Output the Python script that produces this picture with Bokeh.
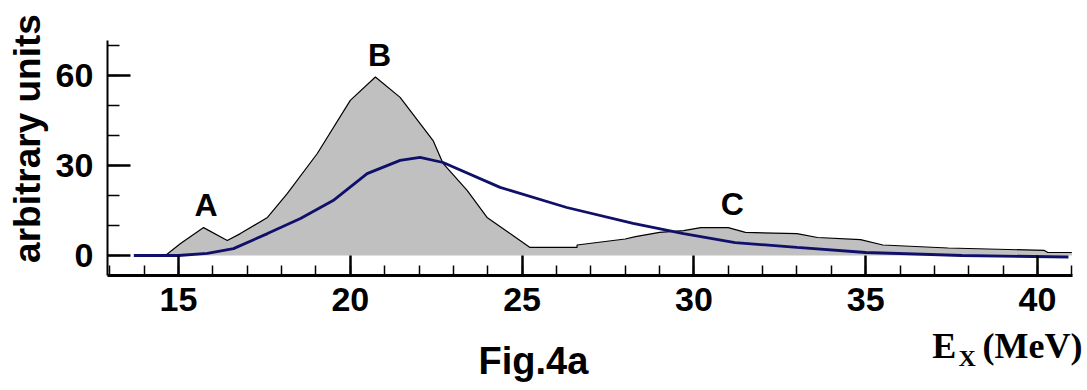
from bokeh.plotting import figure
from bokeh.models import Range1d, SingleIntervalTicker, Label
from bokeh.embed import file_html
from bokeh.resources import INLINE

# gray (measured) spectrum
gray_x = [14.62, 15.06, 15.73, 16.42, 16.8, 17.59, 18.17, 19.04, 20.0, 20.73, 21.45,
          22.41, 22.70, 23.40, 23.98, 24.65, 25.23, 25.6, 26.6, 26.6, 28.0, 28.3, 29.0,
          29.7, 30.2, 31.0, 31.5, 33.0, 33.6, 34.85, 35.5, 37.4, 40.2, 40.3, 41.0]
gray_y = [0, 4, 9.3, 5, 7.3, 12.7, 20.7, 34, 51.7, 59.5, 52.7,
          38.3, 30.7, 21.7, 12.7, 7.3, 2.7, 2.7, 2.7, 3.5, 5.5, 6.3, 7.7,
          8.3, 9.3, 9.3, 7.7, 7.3, 6.0, 5.3, 3.5, 2.5, 1.7, 1.0, 1.0]

# blue (calculated) curve
blue_x = [13.7, 15.0, 15.84, 16.6, 17.59, 18.55, 19.5, 20.49, 21.45, 22.03, 22.70,
          24.36, 26.3, 28.23, 29.7, 31.2, 33.0, 35.0, 37.8, 40.9]
blue_y = [0, 0, 0.7, 2.3, 7.3, 12.3, 18.3, 27.3, 31.7, 32.7, 31,
          22.7, 16, 10.7, 7.3, 4.3, 2.7, 1.0, 0, -0.5]

peak_labels = ["A", "B", "C"]
peak_x = [15.8, 20.85, 31.12]
peak_y = [16.7, 67.0, 17.3]

# axis extents (data units)
X_MIN, X_MAX = 12.93, 41.02
Y_MIN, Y_MAX = -6.67, 71.67

SANS = "Liberation Sans"
SERIF = "Liberation Serif"

p = figure(width=1087, height=390, output_backend="svg", toolbar_location=None,
           x_range=Range1d(9.82, 41.455), y_range=Range1d(-45.0, 85.0),
           min_border=0, min_border_left=0, min_border_right=0,
           min_border_top=0, min_border_bottom=0, title=None)
p.outline_line_color = None
p.grid.visible = False
p.background_fill_color = "white"
p.border_fill_color = "white"

p.varea(x=gray_x, y1=0, y2=gray_y, fill_color="#c0c0c0")
p.line(gray_x, gray_y, line_color="black", line_width=1.2)
p.line(blue_x, blue_y, line_color="#10106a", line_width=2.8)

xa = p.xaxis[0]
xa.ticker = SingleIntervalTicker(interval=5, num_minor_ticks=5)
xa.fixed_location = Y_MIN
xa.bounds = (X_MIN, X_MAX)
ya = p.yaxis[0]
ya.ticker = SingleIntervalTicker(interval=30, num_minor_ticks=3)
ya.fixed_location = X_MIN
ya.bounds = (Y_MIN, Y_MAX)
for ax in (xa, ya):
    ax.major_tick_out = 0
    ax.minor_tick_out = 0
    ax.major_tick_line_width = 2.5
    ax.minor_tick_line_width = 1.5
    ax.major_tick_line_color = "black"
    ax.minor_tick_line_color = "black"
    ax.axis_line_color = "black"
    ax.major_label_text_font = SANS
    ax.major_label_text_font_style = "bold"
    ax.major_label_text_font_size = "34px"
    ax.major_label_text_color = "black"
xa.major_label_standoff = 12
ya.major_label_standoff = 14
xa.major_tick_in = 20
xa.minor_tick_in = 10
xa.axis_line_width = 3
ya.major_tick_in = 23
ya.minor_tick_in = 12
ya.axis_line_width = 2

for t, x, y in zip(peak_labels, peak_x, peak_y):
    p.add_layout(Label(x=x, y=y, text=t, text_align="center", text_baseline="middle",
                       text_font=SANS, text_font_style="bold", text_font_size="32px",
                       text_color="black"))

p.add_layout(Label(x=10.6, y=39.0, text="arbitrary units",
                   angle=90, angle_units="deg", text_align="center", text_baseline="middle",
                   text_font=SANS, text_font_style="bold", text_font_size="37px",
                   text_color="black"))
p.add_layout(Label(x=25.33, y=-35.0, text="Fig.4a",
                   text_align="center", text_baseline="alphabetic",
                   text_font=SANS, text_font_style="bold", text_font_size="38px",
                   text_color="black"))
p.add_layout(Label(x=36.94, y=-30.0, text="E",
                   text_align="left", text_baseline="alphabetic",
                   text_font=SERIF, text_font_style="bold", text_font_size="36px",
                   text_color="black"))
p.add_layout(Label(x=37.70, y=-34.3, text="X",
                   text_align="left", text_baseline="alphabetic",
                   text_font=SERIF, text_font_style="bold", text_font_size="24px",
                   text_color="black"))
p.add_layout(Label(x=41.31, y=-30.0, text="(MeV)",
                   text_align="right", text_baseline="alphabetic",
                   text_font=SERIF, text_font_style="bold", text_font_size="36px",
                   text_color="black"))

open("out.html", "w").write(file_html(p, INLINE))
